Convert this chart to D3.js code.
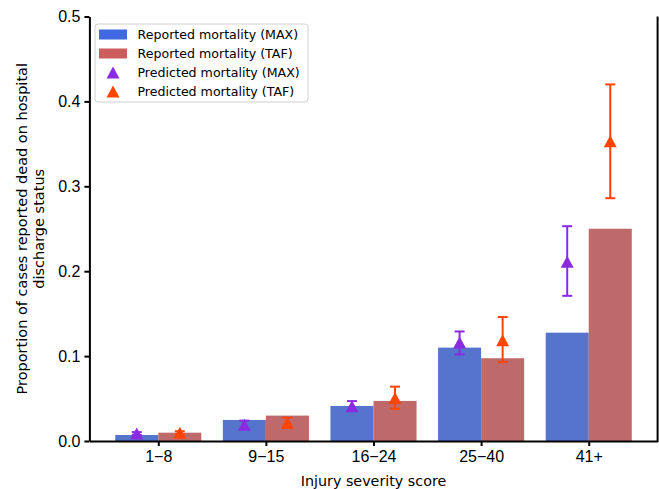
<!DOCTYPE html>
<html>
<head>
<meta charset="utf-8">
<script src="https://cdn.jsdelivr.net/npm/d3@7"></script>
<style>
  body { margin: 0; background: #fff; }
  svg { font-family: "DejaVu Sans", sans-serif; display: block; }
  .axis path, .axis line { stroke: #000; stroke-width: 2; }
  .axis text { font-size: 16px; fill: #000; }
</style>
</head>
<body>
<div id="chart"></div>
<script>
const categories = ["1\u22128", "9\u221215", "16\u221224", "25\u221240", "41+"];
const yTicks = [0, 0.1, 0.2, 0.3, 0.4, 0.5];

const reportedMax = [0.0071, 0.0248, 0.0413, 0.110, 0.1276];
const reportedTaf = [0.0098, 0.0299, 0.0472, 0.0975, 0.250];

const predictedMax = [0.0088, 0.019, 0.041, 0.116, 0.211];
const predictedMaxLo = [0.0072, 0.014, 0.036, 0.102, 0.171];
const predictedMaxHi = [0.0105, 0.024, 0.047, 0.129, 0.253];

const predictedTaf = [0.0097, 0.0214, 0.0507, 0.1187, 0.353];
const predictedTafLo = [0.0080, 0.016, 0.038, 0.093, 0.286];
const predictedTafHi = [0.0115, 0.0275, 0.064, 0.146, 0.420];

const legendLabels = [
  "Reported mortality (MAX)",
  "Reported mortality (TAF)",
  "Predicted mortality (MAX)",
  "Predicted mortality (TAF)",
];

const width = 659;
const height = 489;

const colorMax = "#5575cc";
const colorTaf = "#be6a6b";
const legendMax = "#4169e1";
const legendTaf = "#cd5c5c";
const markMax = "#8a2be2";
const markTaf = "#ff4500";

const svg = d3.select("#chart").append("svg")
  .attr("width", width)
  .attr("height", height);

const scaleX = d3.scaleLinear().domain([-0.64, 4.64]).range([89.4, 657.6]);
const scaleY = d3.scaleLinear().domain([0, 0.5]).range([441, 16.5]);

// bars
const idx = d3.range(categories.length);

svg.append("g").selectAll("rect.max")
  .data(idx)
  .enter()
  .append("rect")
  .attr("x", (i) => scaleX(i - 0.4))
  .attr("width", (i) => scaleX(i) - scaleX(i - 0.4))
  .attr("y", (i) => scaleY(reportedMax[i]))
  .attr("height", (i) => scaleY(0) - scaleY(reportedMax[i]))
  .style("fill", colorMax);

svg.append("g").selectAll("rect.taf")
  .data(idx)
  .enter()
  .append("rect")
  .attr("x", (i) => scaleX(i))
  .attr("width", (i) => scaleX(i + 0.4) - scaleX(i))
  .attr("y", (i) => scaleY(reportedTaf[i]))
  .attr("height", (i) => scaleY(0) - scaleY(reportedTaf[i]))
  .style("fill", colorTaf);

const tri = (cx, cy) => {
  const w = 6.5, h = 6;
  return `M${cx},${cy - h}L${cx + w},${cy + h}L${cx - w},${cy + h}Z`;
};

function drawErrors(values, lo, hi, offset, color) {
  const g = svg.append("g");
  idx.forEach((i) => {
    const cx = scaleX(i + offset);
    g.append("line")
      .attr("x1", cx).attr("x2", cx)
      .attr("y1", scaleY(lo[i])).attr("y2", scaleY(hi[i]))
      .style("stroke", color).style("stroke-width", 2);
    [lo[i], hi[i]].forEach((v) => {
      g.append("line")
        .attr("x1", cx - 5).attr("x2", cx + 5)
        .attr("y1", scaleY(v)).attr("y2", scaleY(v))
        .style("stroke", color).style("stroke-width", 2);
    });
    g.append("path")
      .attr("d", tri(cx, scaleY(values[i])))
      .style("fill", color);
  });
}

drawErrors(predictedMax, predictedMaxLo, predictedMaxHi, -0.2, markMax);
drawErrors(predictedTaf, predictedTafLo, predictedTafHi, 0.2, markTaf);

// axes
const xAxis = d3.axisBottom(scaleX)
  .tickValues(idx)
  .tickFormat((i) => categories[i])
  .tickSize(5)
  .tickSizeOuter(0)
  .tickPadding(5);

const yAxis = d3.axisLeft(scaleY)
  .tickValues(yTicks)
  .tickFormat(d3.format(".1f"))
  .tickSize(5)
  .tickSizeOuter(0)
  .tickPadding(4);

svg.append("g")
  .attr("class", "axis")
  .attr("transform", "translate(0," + scaleY(0) + ")")
  .call(xAxis);

svg.append("g")
  .attr("class", "axis")
  .attr("transform", "translate(" + scaleX.range()[0] + ",0)")
  .call(yAxis);

// right spine
svg.append("line")
  .attr("x1", scaleX.range()[1]).attr("x2", scaleX.range()[1])
  .attr("y1", scaleY(0.5)).attr("y2", scaleY(0) + 1)
  .style("stroke", "#000").style("stroke-width", 2);

// axis labels
svg.append("text")
  .attr("x", (scaleX.range()[0] + scaleX.range()[1]) / 2)
  .attr("y", 486)
  .attr("text-anchor", "middle")
  .style("font-size", "14.3px")
  .text("Injury severity score");

const yl = svg.append("text")
  .attr("transform", "translate(27," + (scaleY(0) + scaleY(0.5)) / 2 + ") rotate(-90)")
  .attr("text-anchor", "middle")
  .style("font-size", "14.5px");
yl.append("tspan").attr("x", 0).attr("dy", 0).text("Proportion of cases reported dead on hospital");
yl.append("tspan").attr("x", 0).attr("dy", 17).text("discharge status");

// legend
const lg = svg.append("g").attr("transform", "translate(95,24)");
lg.append("rect")
  .attr("width", 213)
  .attr("height", 78)
  .attr("rx", 3)
  .style("fill", "rgba(255,255,255,0.8)")
  .style("stroke", "#d0d0d0");

legendLabels.forEach((label, i) => {
  const cy = 10.5 + i * 19;
  if (i < 2) {
    lg.append("rect")
      .attr("x", 4).attr("y", cy - 5)
      .attr("width", 28).attr("height", 10)
      .style("fill", i === 0 ? legendMax : legendTaf);
  } else {
    lg.append("path")
      .attr("d", tri(18, cy))
      .style("fill", i === 2 ? markMax : markTaf);
  }
  lg.append("text")
    .attr("x", 42.5)
    .attr("y", cy + 4.5)
    .style("font-size", "12.6px")
    .text(label);
});
</script>
</body>
</html>
